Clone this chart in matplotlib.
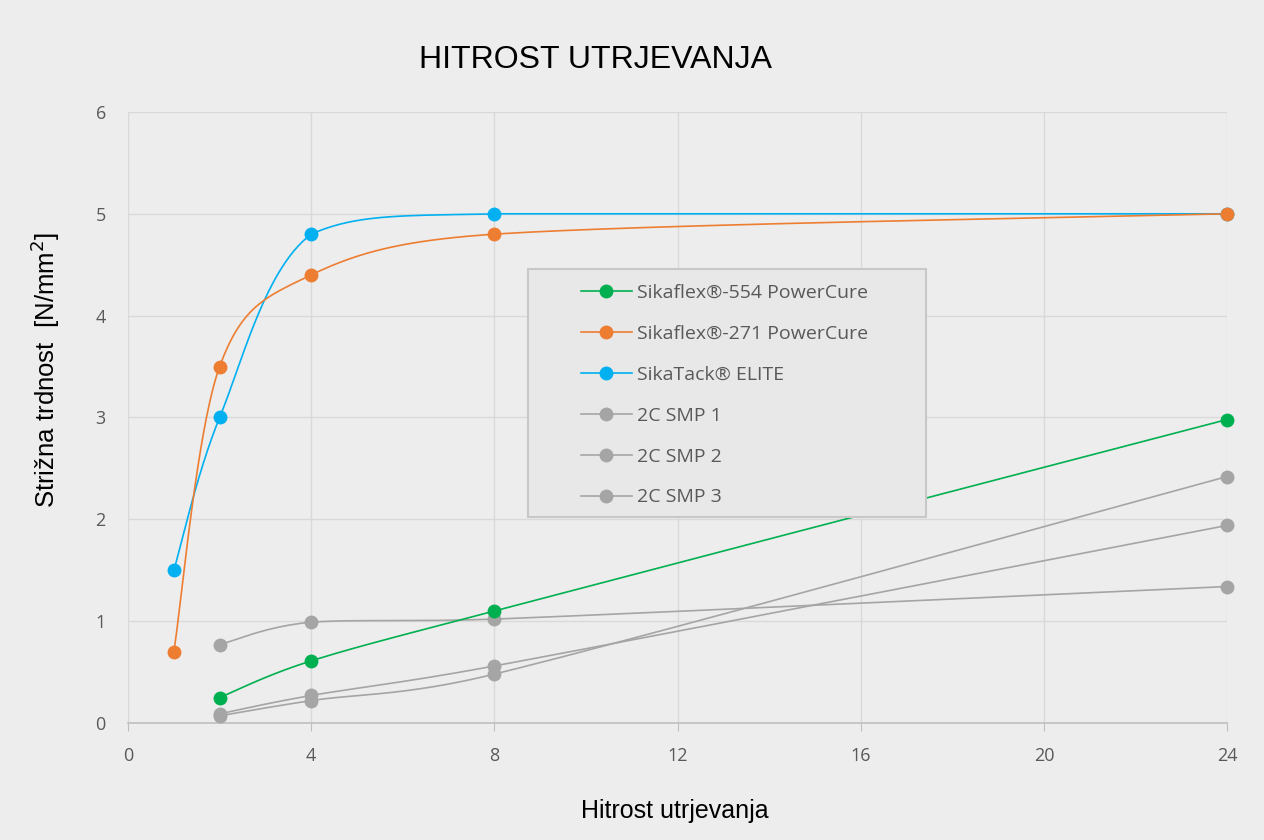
import numpy as np
import matplotlib.pyplot as plt
from matplotlib.patches import Rectangle
from matplotlib.lines import Line2D

# vrednosti odčitane z grafa
ure_kratko = [1, 2, 4, 8, 24]
ure = [2, 4, 8, 24]
sika_554 = [0.25, 0.61, 1.10, 2.98]
sika_271 = [0.70, 3.50, 4.40, 4.80, 5.00]
sika_elite = [1.50, 3.00, 4.80, 5.00, 5.00]
smp_1 = [0.77, 0.99, 1.02, 1.34]
smp_2 = [0.09, 0.27, 0.56, 1.94]
smp_3 = [0.07, 0.22, 0.48, 2.42]

x_ticks = [0, 4, 8, 12, 16, 20, 24]
y_ticks = [0, 1, 2, 3, 4, 5, 6]

BG = "#EDEDED"
GRID = "#D9D9D9"
TXT = "#595959"

# pikslov na enoto (za glajenje v zaslonskih koordinatah)
SX, SY = 45.8, 101.8


def gladko(x, y, n=60):
    """Excel-like smoothed line: Bezier, arms 1/6 but at most half a segment,
    control points kept inside the segment's y range (no overshoot)."""
    p = np.column_stack([np.asarray(x) * SX, np.asarray(y) * SY]).astype(float)
    p = np.vstack([p[0], p, p[-1]])
    t = np.linspace(0, 1, n)[:, None]
    kosi = []
    for i in range(1, len(p) - 2):
        p0, p1, p2, p3 = p[i - 1], p[i], p[i + 1], p[i + 2]
        d12 = np.linalg.norm(p2 - p1)
        d02 = np.linalg.norm(p2 - p0)
        d13 = np.linalg.norm(p3 - p1)
        f1 = 1 / 6 if d02 / 6 < d12 / 2 else d12 / (2 * d02)
        f2 = 1 / 6 if d13 / 6 < d12 / 2 else d12 / (2 * d13)
        c1 = p1 + (p2 - p0) * f1
        c2 = p2 - (p3 - p1) * f2
        lo, hi = min(p1[1], p2[1]), max(p1[1], p2[1])
        c1[1] = np.clip(c1[1], lo, hi)
        c2[1] = np.clip(c2[1], lo, hi)
        b = ((1 - t) ** 3) * p1 + 3 * ((1 - t) ** 2) * t * c1 + 3 * (1 - t) * t ** 2 * c2 + t ** 3 * p2
        kosi.append(b)
    b = np.vstack(kosi)
    return b[:, 0] / SX, b[:, 1] / SY


fig = plt.figure(figsize=(12.64, 8.4), dpi=100, facecolor=BG)
ax = fig.add_axes([0.1013, 0.1393, 0.8695, 0.7274])
ax.set_facecolor(BG)

serije = [
    ("Sikaflex®-554 PowerCure", ure, sika_554, "#00B050"),
    ("Sikaflex®-271 PowerCure", ure_kratko, sika_271, "#ED7D31"),
    ("SikaTack® ELITE", ure_kratko, sika_elite, "#00B0F0"),
    ("2C SMP 1", ure, smp_1, "#A5A5A5"),
    ("2C SMP 2", ure, smp_2, "#A5A5A5"),
    ("2C SMP 3", ure, smp_3, "#A5A5A5"),
]

# sive najprej, da so barvne na vrhu
for ime, xs, ys, barva in serije[::-1]:
    gx, gy = gladko(xs, ys)
    ax.plot(gx, gy, color=barva, lw=1.2, zorder=3, clip_on=False)
    ax.plot(xs, ys, "o", color=barva, ms=10, mec="none", zorder=4, clip_on=False)

ax.set_xlim(0, 24)
ax.set_ylim(0, 6)
ax.set_xticks(x_ticks)
ax.set_yticks(y_ticks)
ax.grid(True, color=GRID, lw=1)
ax.set_axisbelow(True)
for s in ["top", "right", "left"]:
    ax.spines[s].set_visible(False)
ax.spines["bottom"].set_color("#BFBFBF")
ax.spines["bottom"].set_linewidth(1.2)
ax.tick_params(axis="x", length=6, color="#BFBFBF", pad=11, labelcolor=TXT, labelsize=13)
ax.tick_params(axis="y", length=0, pad=16, labelcolor=TXT, labelsize=13)
for lab in ax.get_xticklabels() + ax.get_yticklabels():
    lab.set_family("Open Sans")

fig.text(0.4715, 0.929, "HITROST UTRJEVANJA", ha="center", va="center",
         fontsize=23, family="Liberation Sans", color="black")
fig.text(0.036, 0.56, "Strižna trdnost  [N/mm$^2$]", rotation=90, ha="center", va="center",
         fontsize=18.5, family="Liberation Sans", color="black")
fig.text(0.534, 0.035, "Hitrost utrjevanja", ha="center", va="center",
         fontsize=18, family="Liberation Sans", color="black")

# okvir legende
x0, x1 = 528 / 1264, 926 / 1264
y0, y1 = 1 - 517 / 840, 1 - 269 / 840
fig.patches.append(Rectangle((x0, y0), x1 - x0, y1 - y0, transform=fig.transFigure,
                             facecolor="#E8E8E8", edgecolor="#C8C8C8", lw=1.5, zorder=5))
rocke = [Line2D([], [], color=b, lw=1.2, marker="o", ms=10, mec="none") for _, _, _, b in serije]
leg = fig.legend(rocke, [s[0] for s in serije], loc="center",
                 bbox_to_anchor=((x0 + x1) / 2 - 0.002, (y0 + y1) / 2 - 0.0025), frameon=False,
                 prop={"family": "Open Sans", "size": 14}, labelcolor=TXT,
                 handlelength=2.6, handletextpad=0.26, labelspacing=1.18)
leg.set_zorder(6)

fig.savefig("out.png", dpi=100, facecolor=BG)
